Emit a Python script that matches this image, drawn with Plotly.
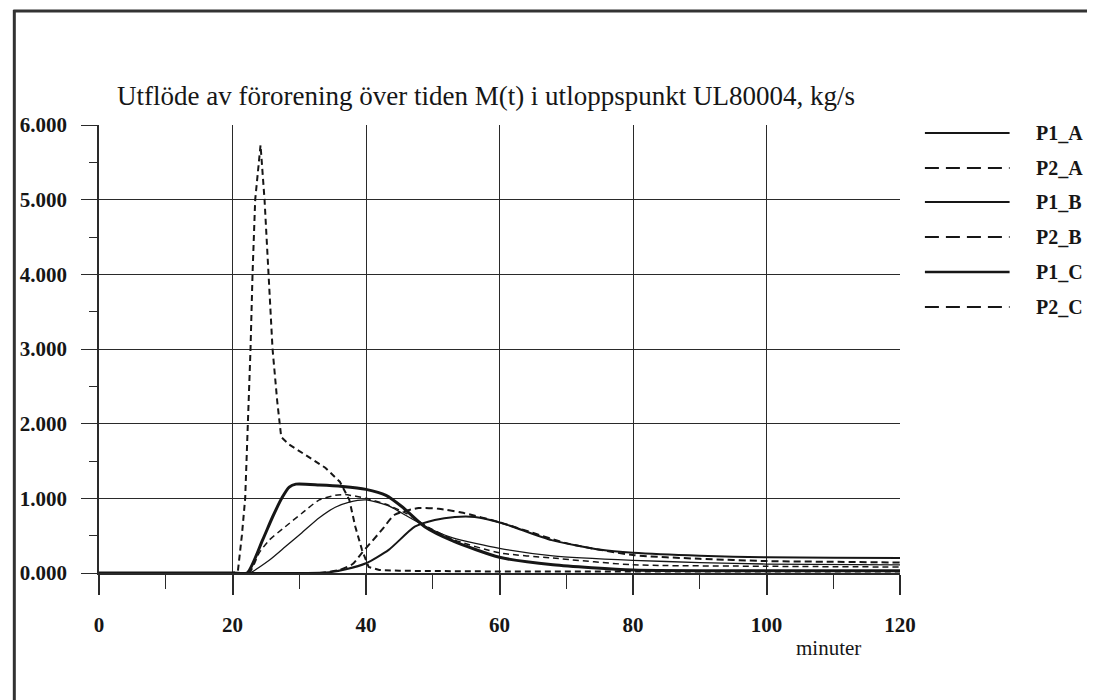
import plotly.graph_objects as go

# ---------------- data ----------------
series_names = ["P1_A", "P2_A", "P1_B", "P2_B", "P1_C", "P2_C"]

t_p1a = [0, 20, 30, 34.5, 37, 40, 43.4, 47.3, 50.3, 53.3, 56.3, 60.3, 67.8, 75.2, 80, 90, 100, 110, 120]
v_p1a = [0, 0, 0.0, 0.01, 0.05, 0.13, 0.31, 0.62, 0.71, 0.75, 0.75, 0.67, 0.44, 0.31, 0.27, 0.23, 0.21, 0.205, 0.20]

t_p2a = [0, 20, 33, 36, 38, 39.4, 42.4, 44.3, 47.9, 50.9, 54.3, 60, 70, 80, 90, 100, 110, 120]
v_p2a = [0, 0, 0.0, 0.04, 0.12, 0.27, 0.58, 0.78, 0.87, 0.86, 0.81, 0.68, 0.40, 0.24, 0.19, 0.16, 0.15, 0.14]

t_p1b = [0, 20, 22.5, 25.5, 27.9, 30.4, 33.0, 35.4, 37.5, 40.0, 43.4, 45.4, 49.0, 53.0, 60, 68, 80, 90, 100, 120]
v_p1b = [0, 0, 0.0, 0.17, 0.35, 0.54, 0.74, 0.88, 0.95, 0.98, 0.90, 0.80, 0.62, 0.47, 0.33, 0.23, 0.17, 0.14, 0.12, 0.11]

t_p2b = [0, 20, 22.5, 24.0, 25.5, 27.9, 30.4, 33.0, 35.4, 36.9, 40, 43, 46, 49, 53, 60, 68, 80, 100, 120]
v_p2b = [0, 0, 0.0, 0.27, 0.44, 0.62, 0.80, 0.98, 1.04, 1.05, 1.00, 0.92, 0.80, 0.63, 0.45, 0.27, 0.20, 0.11, 0.09, 0.08]

t_p1c = [0, 20, 22.2, 24.5, 26.0, 27.5, 28.5, 29.5, 33, 36.5, 40.0, 43.0, 45.5, 48.8, 53, 60, 68, 80, 100, 120]
v_p1c = [0, 0, 0.0, 0.44, 0.75, 1.02, 1.15, 1.19, 1.18, 1.16, 1.12, 1.04, 0.88, 0.62, 0.43, 0.21, 0.11, 0.04, 0.03, 0.03]

t_p2c = [0, 20, 20.8, 21.4, 21.9, 22.4, 22.7, 23.0, 23.4, 24.2, 24.8, 25.4, 26.0, 26.7, 27.3, 28.5,
         30.4, 33.9, 36.1, 37.5, 38.4, 39.4, 40.4, 42, 45, 60, 80, 100, 120]
v_p2c = [0, 0, 0.02, 0.5, 1.0, 2.1, 3.0, 4.0, 5.0, 5.73, 5.0, 4.0, 3.0, 2.3, 1.82, 1.72,
         1.61, 1.41, 1.22, 0.98, 0.62, 0.31, 0.08, 0.04, 0.03, 0.02, 0.02, 0.02, 0.02]

x_ticks = [0, 20, 40, 60, 80, 100, 120]
y_ticks = [0, 1, 2, 3, 4, 5, 6]

title_text = "Utflöde av förorening över tiden M(t) i utloppspunkt UL80004, kg/s"
x_unit = "minuter"

# ---------------- styling ----------------
INK = "#161616"
SERIF = "Liberation Serif"
OFF = 8                      # page body margin added by the browser
W, H = 1095 - OFF, 700 - OFF
L, R, T, B = 96 - OFF, 195, 125 - OFF, 127
PW, PH = W - L - R, H - T - B

styles = {
    "P1_A": dict(width=2.0, dash="solid", shape="spline"),
    "P2_A": dict(width=2.0, dash="7px,4px", shape="spline"),
    "P1_B": dict(width=1.3, dash="solid", shape="spline"),
    "P2_B": dict(width=1.5, dash="6px,4px", shape="spline"),
    "P1_C": dict(width=3.0, dash="solid", shape="spline"),
    "P2_C": dict(width=2.0, dash="6px,4px", shape="linear"),
}

data = {
    "P1_A": (t_p1a, v_p1a), "P2_A": (t_p2a, v_p2a),
    "P1_B": (t_p1b, v_p1b), "P2_B": (t_p2b, v_p2b),
    "P1_C": (t_p1c, v_p1c), "P2_C": (t_p2c, v_p2c),
}

fig = go.Figure()
for name in series_names:
    t, v = data[name]
    s = styles[name]
    line = dict(color=INK, width=s["width"], dash=s["dash"], shape=s["shape"])
    if s["shape"] == "spline":
        line["smoothing"] = 0.6
    fig.add_trace(go.Scatter(x=t, y=v, mode="lines", name=name, line=line,
                             showlegend=False, cliponaxis=True))

# convert page pixel positions to paper coordinates
def px_x(px):
    return (px - OFF - L) / PW

def px_y(py):
    return (H - B - (py - OFF)) / PH

shapes = []
annotations = []
# outer frame (left and top edges of the scanned page frame)
shapes.append(dict(type="line", xref="paper", yref="paper", x0=px_x(11), x1=px_x(11),
                   y0=px_y(10), y1=px_y(705), line=dict(color="#333", width=3)))
shapes.append(dict(type="line", xref="paper", yref="paper", x0=px_x(10), x1=px_x(1100),
                   y0=px_y(11), y1=px_y(11), line=dict(color="#333", width=3)))

# legend drawn beside the plot
row_y = [133, 168, 202, 237, 272, 307]
for name, ry in zip(series_names, row_y):
    s = styles[name]
    dash = "solid" if s["dash"] == "solid" else "14px,7px"
    shapes.append(dict(type="line", xref="paper", yref="paper",
                       x0=px_x(925), x1=px_x(1010), y0=px_y(ry), y1=px_y(ry),
                       line=dict(color=INK, width=2.6 if name == "P1_C" else 2, dash=dash)))
    annotations.append(dict(text=name, xref="paper", yref="paper", x=px_x(1035), y=px_y(ry),
                            xanchor="left", yanchor="middle", showarrow=False,
                            font=dict(family=SERIF, size=20, color=INK, weight="bold")))

annotations.append(dict(text=x_unit, xref="paper", yref="paper", x=px_x(828), y=px_y(648),
                        xanchor="center", yanchor="middle", showarrow=False,
                        font=dict(family=SERIF, size=21, color=INK)))

fig.update_layout(
    width=W, height=H,
    margin=dict(l=L, r=R, t=T, b=B),
    paper_bgcolor="white", plot_bgcolor="white",
    title=dict(text=title_text, x=(117 - OFF) / W, xref="container", xanchor="left",
               y=1 - (96 - OFF) / H, yref="container", yanchor="middle",
               font=dict(family=SERIF, size=27, color=INK)),
    shapes=shapes, annotations=annotations,
    showlegend=False,
)

fig.update_xaxes(
    range=[0, 120], tickvals=x_ticks, ticktext=[str(v) for v in x_ticks],
    showgrid=True, gridcolor="#2a2a2a", gridwidth=1.3,
    showline=True, linecolor="#2a2a2a", linewidth=1.5, mirror=False,
    ticks="outside", ticklen=20, tickwidth=1.5, tickcolor="#2a2a2a",
    minor=dict(dtick=10, ticks="outside", ticklen=14, tickwidth=1.3, tickcolor="#2a2a2a", showgrid=False),
    tickfont=dict(family=SERIF, size=21, color=INK, weight="bold"),
    ticklabelstandoff=12, zeroline=False, fixedrange=True,
)
fig.update_yaxes(
    range=[0, 6], tickvals=y_ticks, tickformat=".3f",
    showgrid=True, gridcolor="#2a2a2a", gridwidth=1.3,
    showline=True, linecolor="#2a2a2a", linewidth=1.5,
    ticks="outside", ticklen=16, tickwidth=1.2, tickcolor="#2a2a2a",
    minor=dict(dtick=0.5, ticks="outside", ticklen=8, tickwidth=1.2, tickcolor="#2a2a2a", showgrid=False),
    tickfont=dict(family=SERIF, size=21, color=INK, weight="bold"),
    ticklabelstandoff=10, zeroline=False, fixedrange=True,
)

fig.write_html("out.html")
